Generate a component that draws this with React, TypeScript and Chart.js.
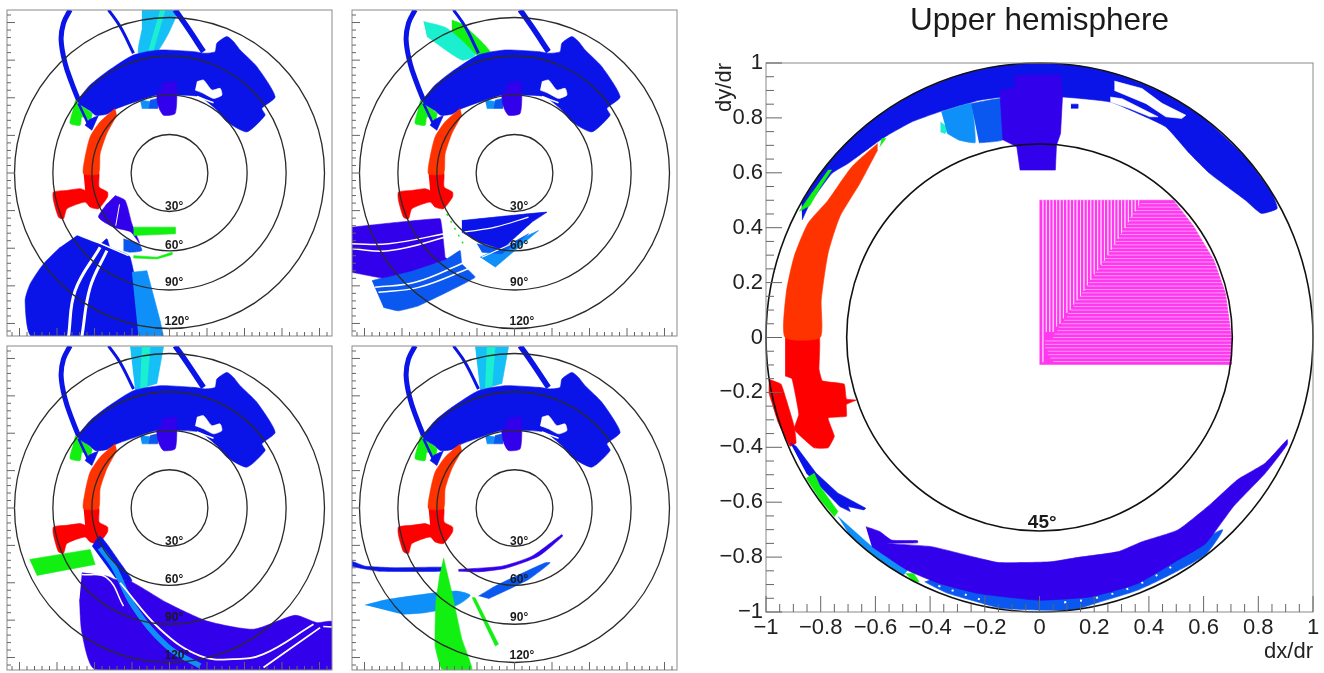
import React, { useEffect, useRef } from "react";
import { Chart, registerables } from "chart.js";

Chart.register(...registerables);

type P = number[];

// ---------- shared marks of the four small panels (dx, dy) ----------
const loopLeft: P[] = [[-0.795, 1.301], [-0.848, 1.195], [-0.867, 1.061], [-0.835, 0.875], [-0.781, 0.715], [-0.728, 0.581]];
const loopMid: P[] = [[-0.488, 1.301], [-0.395, 1.168], [-0.288, 0.955]];
const loopRight: P[] = [[0.045, 1.301], [0.139, 1.168], [0.272, 0.968]];
const mainBand: P[] = [[-0.736, 0.581], [-0.635, 0.701], [-0.501, 0.808], [-0.288, 0.941], [-0.075, 0.981], [0.192, 0.968], [0.285, 0.955], [0.365, 0.968], [0.379, 1.035], [0.459, 1.088], [0.512, 1.048], [0.565, 0.981], [0.699, 0.848], [0.845, 0.608], [0.739, 0.515], [0.765, 0.461], [0.619, 0.328], [0.459, 0.408], [0.379, 0.501], [0.245, 0.608], [0.085, 0.621], [-0.101, 0.621], [-0.235, 0.581], [-0.421, 0.515], [-0.5, 0.47], [-0.59, 0.46], [-0.64, 0.5], [-0.728, 0.555]];
const sideLobe: P[] = [[-0.568, 0.461], [-0.621, 0.341], [-0.675, 0.381], [-0.648, 0.421], [-0.595, 0.448]];
const mainHole: P[] = [[0.219, 0.728], [0.272, 0.741], [0.339, 0.661], [0.405, 0.675], [0.419, 0.621], [0.352, 0.595], [0.272, 0.635], [0.205, 0.661]];
const mainSlit: P[] = [[0.219, 0.61], [0.352, 0.56]];
const crownIndigo: P[] = [[-0.061, 0.715], [0.045, 0.728], [0.059, 0.661], [0.045, 0.475], [-0.048, 0.461], [-0.088, 0.528], [-0.101, 0.635], [-0.061, 0.661]];
const crownLight: P[] = [[-0.235, 0.581], [-0.155, 0.571], [-0.168, 0.515], [-0.221, 0.515]];
const crownMid: P[] = [[-0.155, 0.581], [-0.096, 0.595], [-0.096, 0.515], [-0.168, 0.515]];
const sideGreen: P[] = [[-0.755, 0.581], [-0.728, 0.555], [-0.621, 0.475], [-0.635, 0.421], [-0.701, 0.448], [-0.715, 0.381], [-0.795, 0.395], [-0.781, 0.475]];
const sideBlueLine: P[] = [[-0.728, 0.555], [-0.65, 0.39]];
const arcOrange: P[] = [[-0.435, 0.515], [-0.555, 0.408], [-0.635, 0.288], [-0.675, 0.128], [-0.688, -0.005], [-0.568, -0.005], [-0.555, 0.155], [-0.501, 0.315], [-0.421, 0.461]];
const arcRed: P[] = [[-0.688, 0.005], [-0.568, 0.005], [-0.563, -0.112], [-0.496, -0.152], [-0.496, -0.192], [-0.568, -0.285], [-0.635, -0.272], [-0.675, -0.232], [-0.821, -0.285], [-0.848, -0.365], [-0.888, -0.352], [-0.928, -0.219], [-0.928, -0.152], [-0.821, -0.139], [-0.715, -0.125], [-0.675, -0.139]];

// ---------- panel 1 ----------
const p1Cyan: P[] = [[-0.221, 1.301], [0.059, 1.301], [0.005, 1.141], [-0.101, 0.968], [-0.248, 0.955], [-0.221, 1.141]];
const p1Teal: P[] = [[-0.075, 1.301], [-0.035, 1.301], [-0.128, 0.981], [-0.168, 0.981]];
const p1Indigo: P[] = [[-0.435, -0.179], [-0.355, -0.219], [-0.301, -0.405], [-0.24, -0.56], [-0.31, -0.47], [-0.448, -0.432], [-0.568, -0.352], [-0.501, -0.245]];
const p1IndigoSlit: P[] = [[-0.4, -0.25], [-0.43, -0.42]];
const p1GreenBar: P[] = [[-0.288, -0.432], [0.045, -0.432], [0.045, -0.485], [-0.288, -0.499]];
const p1GreenThin: P[] = [[-0.288, -0.659], [-0.101, -0.672], [0.019, -0.632], [0.019, -0.651], [-0.101, -0.685], [-0.288, -0.677]];
const p1MidSmall: P[] = [[-0.368, -0.525], [-0.248, -0.565], [-0.221, -0.619], [-0.315, -0.632], [-0.368, -0.619]];
const p1BigBlue: P[] = [[-0.741, -0.499], [-0.555, -0.565], [-0.501, -0.525], [-0.475, -0.592], [-0.315, -0.672], [-0.261, -1.304], [-1.101, -1.304], [-1.155, -1.019], [-1.115, -0.885], [-1.008, -0.725], [-0.875, -0.592]];
const p1SlitA: P[] = [[-0.555, -0.592], [-0.755, -0.939], [-0.808, -1.304]];
const p1SlitB: P[] = [[-0.501, -0.619], [-0.635, -0.912], [-0.701, -1.304]];
const p1SlitTop: P[] = [[-0.728, -0.485], [-0.328, -0.659]];
const p1Light: P[] = [[-0.301, -0.792], [-0.181, -0.779], [-0.075, -1.179], [-0.048, -1.304], [-0.248, -1.304]];

// ---------- panel 2 ----------
const p2Green: P[] = [[-0.501, 1.221], [-0.408, 1.181], [-0.195, 0.968], [-0.301, 0.941], [-0.501, 1.115]];
const p2Teal: P[] = [[-0.728, 1.208], [-0.541, 1.155], [-0.315, 0.941], [-0.421, 0.901], [-0.701, 1.088]];
const p2Indigo: P[] = [[-1.301, -0.432], [-0.595, -0.365], [-0.555, -0.672], [-0.541, -0.685], [-0.821, -0.779], [-1.061, -0.837], [-1.301, -0.792]];
const p2SlitA: P[] = [[-1.301, -0.565], [-1.008, -0.565], [-0.501, -0.472]];
const p2SlitB: P[] = [[-1.301, -0.605], [-0.995, -0.619], [-0.501, -0.499]];
const p2SlitC: P[] = [[-0.568, -0.459], [-0.541, -0.632]];
const p2Mid: P[] = [[-1.141, -0.859], [-1.061, -0.837], [-0.541, -0.685], [-0.435, -0.619], [-0.421, -0.725], [-0.315, -0.832], [-0.768, -1.059], [-0.928, -1.099], [-1.048, -1.072]];
const p2SlitD: P[] = [[-1.115, -0.912], [-0.795, -0.872], [-0.395, -0.712]];
const p2SlitE: P[] = [[-1.088, -0.952], [-0.768, -0.912], [-0.341, -0.752]];
const p2Wedge: P[] = [[-0.421, -0.379], [0.259, -0.312], [0.139, -0.392], [-0.101, -0.605], [-0.275, -0.552], [-0.421, -0.472]];
const p2SlitF: P[] = [[-0.408, -0.472], [-0.155, -0.432], [0.112, -0.352]];
const p2WedgeLight: P[] = [[-0.275, -0.672], [0.019, -0.539], [0.192, -0.459], [-0.155, -0.752]];
const p2WedgeMid: P[] = [[-0.301, -0.565], [-0.101, -0.605], [0.112, -0.485], [-0.101, -0.645], [-0.261, -0.632]];
const p2SlitG: P[] = [[-0.261, -0.672], [0.005, -0.552]];
const p2GreenDots: P[] = [[-0.541, -0.325], [-0.395, -0.592]];

// ---------- panels 3 and 4 ----------
const lowCyan: P[] = [[-0.315, 1.293], [-0.048, 1.293], [-0.101, 1.0], [-0.275, 0.947]];
const lowTeal: P[] = [[-0.221, 1.293], [-0.155, 1.293], [-0.181, 0.973], [-0.235, 0.96]];
const p3GreenBar: P[] = [[-1.12, -0.413], [-0.635, -0.333], [-0.595, -0.453], [-1.061, -0.541]];
const p3GreenA: P[] = [[-0.715, -0.827], [-0.688, -0.827], [-0.688, -0.853], [-0.715, -0.853]];
const p3GreenB: P[] = [[-0.435, -0.667], [-0.408, -0.667], [-0.408, -0.72], [-0.435, -0.72]];
const p3Indigo: P[] = [[-0.701, -0.52], [-0.501, -0.547], [-0.435, -0.573], [-0.315, -0.587], [-0.021, -0.76], [0.299, -0.907], [0.672, -0.973], [1.005, -0.861], [1.179, -0.92], [1.304, -0.915], [1.304, -1.293], [-0.595, -1.293], [-0.701, -1], [-0.72, -0.733]];
const p3BlueLobe: P[] = [[-0.619, -0.307], [-0.555, -0.227], [-0.395, -0.44], [-0.301, -0.587], [-0.435, -0.56]];
const p3LightArc: P[] = [[-0.555, -0.32], [-0.448, -0.467], [-0.288, -0.787], [-0.021, -1.107], [0.245, -1.267]];
const p3SlitA: P[] = [[-0.701, -0.533], [-0.501, -0.56], [-0.368, -0.787]];
const p3SlitB: P[] = [[-0.395, -0.6], [-0.075, -0.973], [0.245, -1.187], [0.512, -1.213], [0.752, -1.173], [1.152, -0.933]];
const p3SlitC: P[] = [[0.752, -1.28], [1.205, -0.96]];
const p3SlitD: P[] = [[1.23, -0.95], [1.304, -0.955]];

const p4BlueStrip: P[] = [[-1.301, -0.427], [-1.195, -0.467], [-0.955, -0.48], [-0.581, -0.475], [-0.581, -0.507], [-1.088, -0.507], [-1.248, -0.48], [-1.301, -0.467]];
const p4IndigoArc: P[] = [[-0.448, -0.493], [-0.101, -0.467], [0.139, -0.387], [0.379, -0.213], [0.384, -0.227], [0.192, -0.387], [-0.075, -0.485], [-0.288, -0.512], [-0.448, -0.507]];
const p4Mid: P[] = [[-0.288, -0.707], [-0.155, -0.627], [0.245, -0.44], [0.285, -0.44], [0.112, -0.573], [-0.208, -0.728]];
const p4Light: P[] = [[-1.195, -0.779], [-1.008, -0.733], [-0.475, -0.667], [-0.355, -0.701], [-0.475, -0.787], [-0.715, -0.84], [-0.901, -0.853]];
const p4Green: P[] = [[-0.568, -0.4], [-0.501, -0.68], [-0.421, -1.053], [-0.341, -1.293], [-0.581, -1.293], [-0.635, -1.107], [-0.629, -0.76], [-0.595, -0.52]];
const p4GreenThin: P[] = [[-0.341, -0.72], [-0.315, -0.72], [-0.128, -1.093], [-0.155, -1.107]];

// ---------- large panel ----------
const bigTopBand: P[] = [[-0.868, 0.428], [-0.839, 0.489], [-0.759, 0.598], [-0.7, 0.634], [-0.6, 0.707], [-0.555, 0.737], [-0.468, 0.785], [-0.366, 0.822], [-0.221, 0.864], [-0.134, 0.876], [0.084, 0.876], [0.259, 0.858], [0.36, 0.816], [0.462, 0.767], [0.549, 0.67], [0.622, 0.598], [0.753, 0.5], [0.811, 0.452], [0.869, 0.47], [0.85, 0.525], [0.75, 0.66], [0.6, 0.8], [0.45, 0.893], [0.3, 0.954], [0.15, 0.989], [0, 1], [-0.15, 0.989], [-0.3, 0.954], [-0.45, 0.893], [-0.6, 0.8], [-0.7, 0.714], [-0.8, 0.6], [-0.87, 0.49]];
const bigHoleA: P[] = [[0.274, 0.934], [0.375, 0.907], [0.448, 0.853], [0.535, 0.81], [0.52, 0.798], [0.462, 0.804], [0.39, 0.852], [0.274, 0.9]];
const bigHoleB: P[] = [[0.259, 0.876], [0.302, 0.87], [0.433, 0.804], [0.404, 0.804], [0.33, 0.834], [0.259, 0.858]];
const bigDot: P[] = [[0.115, 0.85], [0.14, 0.85], [0.14, 0.835], [0.115, 0.835]];
const bigIndigoTop: P[] = [[-0.09, 0.955], [0.077, 0.955], [0.084, 0.876], [0.077, 0.743], [0.062, 0.7], [0.058, 0.61], [-0.071, 0.61], [-0.083, 0.695], [-0.134, 0.72], [-0.145, 0.9], [-0.09, 0.91]];
const bigLightBlob: P[] = [[-0.359, 0.822], [-0.25, 0.852], [-0.235, 0.71], [-0.294, 0.719], [-0.337, 0.743]];
const bigMidBlob: P[] = [[-0.25, 0.852], [-0.134, 0.87], [-0.134, 0.72], [-0.221, 0.709]];
const bigCyanBlob: P[] = [[-0.362, 0.785], [-0.33, 0.761], [-0.345, 0.743], [-0.362, 0.749]];
const bigOrange: P[] = [[-0.592, 0.707], [-0.686, 0.622], [-0.773, 0.5], [-0.846, 0.416], [-0.897, 0.295], [-0.926, 0.162], [-0.93, 0], [-0.802, 0], [-0.798, 0.137], [-0.773, 0.307], [-0.73, 0.44], [-0.657, 0.561], [-0.592, 0.683]];
const bigGreenTip: P[] = [[-0.577, 0.725], [-0.562, 0.725], [-0.584, 0.695]];
const bigGreenSide: P[] = [[-0.773, 0.61], [-0.76, 0.61], [-0.8, 0.55], [-0.84, 0.48], [-0.878, 0.46], [-0.83, 0.53]];
const bigRed: P[] = [[-0.93, 0.005], [-0.806, 0.005], [-0.806, -0.116], [-0.794, -0.158], [-0.714, -0.17], [-0.706, -0.224], [-0.67, -0.228], [-0.706, -0.244], [-0.706, -0.287], [-0.773, -0.293], [-0.75, -0.36], [-0.773, -0.402], [-0.824, -0.402], [-0.897, -0.335], [-0.88, -0.28], [-0.905, -0.15], [-0.93, -0.14]];
const bigRedStrip: P[] = [[-0.99, -0.152], [-0.945, -0.17], [-0.926, -0.226], [-0.897, -0.323], [-0.89, -0.384], [-0.912, -0.396], [-0.955, -0.31], [-0.99, -0.2]];
const bigBlueLow: P[] = [[-0.911, -0.384], [-0.89, -0.396], [-0.817, -0.494], [-0.737, -0.567], [-0.635, -0.622], [-0.642, -0.628], [-0.7, -0.616], [-0.692, -0.634], [-0.73, -0.616], [-0.802, -0.543], [-0.853, -0.494]];
const bigGreenLow: P[] = [[-0.824, -0.494], [-0.802, -0.543], [-0.737, -0.634], [-0.75, -0.652], [-0.802, -0.591], [-0.853, -0.512]];
const bigCrescent: P[] = [[-0.635, -0.689], [-0.584, -0.707], [-0.541, -0.738], [-0.446, -0.74], [-0.446, -0.748], [-0.555, -0.75], [-0.395, -0.762], [-0.235, -0.801], [-0.148, -0.82], [0.041, -0.817], [0.142, -0.801], [0.288, -0.78], [0.375, -0.744], [0.506, -0.701], [0.622, -0.61], [0.724, -0.518], [0.826, -0.457], [0.906, -0.372], [0.906, -0.39], [0.826, -0.494], [0.709, -0.616], [0.608, -0.75], [0.506, -0.811], [0.36, -0.896], [0.186, -0.945], [-0.003, -0.957], [-0.221, -0.933], [-0.366, -0.896], [-0.483, -0.848], [-0.613, -0.762]];
const bigMidLow: P[] = [[-0.366, -0.87], [-0.003, -0.94], [0.186, -0.93], [0.36, -0.88], [0.506, -0.79], [0.669, -0.7], [0.608, -0.79], [0.506, -0.85], [0.36, -0.92], [0.215, -0.965], [0.115, -0.993], [-0.134, -0.987], [-0.221, -0.965], [-0.34, -0.93], [-0.42, -0.89]];
const bigLightLow: P[] = [[-0.737, -0.652], [-0.613, -0.762], [-0.483, -0.848], [-0.498, -0.866], [-0.6, -0.8], [-0.699, -0.713]];
const bigGreenSpot: P[] = [[-0.49, -0.86], [-0.46, -0.86], [-0.44, -0.89], [-0.46, -0.89]];
const bigSpecksA: P[] = [[0.09, -0.965], [0.2, -0.95], [0.35, -0.905], [0.52, -0.815]];
const bigSpecksB: P[] = [[-0.37, -0.905], [-0.2, -0.96]];
const bigMagenta: P[] = [[0, 0.5], [0.49, 0.5], [0.564, 0.404], [0.637, 0.282], [0.68, 0.161], [0.702, 0], [0.702, -0.098], [0, -0.098]];
// rows: [dy, dx where the row's line starts]; columns: [dx, dy where the column's line stops]
const magentaRows: P[] = [[0.4875, 0.37], [0.475, 0.36], [0.4625, 0.35], [0.45, 0.34], [0.4375, 0.33], [0.425, 0.325], [0.4125, 0.32], [0.4, 0.31], [0.3875, 0.3], [0.375, 0.295], [0.3625, 0.285], [0.35, 0.28], [0.3375, 0.27], [0.325, 0.26], [0.3125, 0.255], [0.3, 0.25], [0.2875, 0.24], [0.275, 0.23], [0.2625, 0.225], [0.25, 0.215], [0.2375, 0.205], [0.225, 0.2], [0.2125, 0.19], [0.2, 0.18], [0.1875, 0.175], [0.175, 0.165], [0.1625, 0.155], [0.15, 0.15], [0.1375, 0.14], [0.125, 0.13], [0.1125, 0.125], [0.1, 0.115], [0.0875, 0.105], [0.075, 0.1], [0.0625, 0.09], [0.05, 0.08], [0.0375, 0.07], [0.025, 0.065], [0.0125, 0.055], [0, 0.05], [-0.0125, 0.02], [-0.025, 0.02], [-0.0375, 0.02], [-0.05, 0.03], [-0.0625, 0.03], [-0.075, 0.04], [-0.0875, 0.05]];
const magentaColumns: P[] = [[0.0125, -0.09], [0.025, 0.02], [0.0375, 0.02], [0.05, 0.02], [0.0625, 0.04], [0.075, 0.05], [0.0875, 0.07], [0.1, 0.09], [0.1125, 0.1], [0.125, 0.12], [0.1375, 0.135], [0.15, 0.15], [0.1625, 0.17], [0.175, 0.19], [0.1875, 0.21], [0.2, 0.23], [0.2125, 0.245], [0.225, 0.265], [0.2375, 0.28], [0.25, 0.3], [0.2625, 0.32], [0.275, 0.34], [0.2875, 0.36], [0.3, 0.38], [0.3125, 0.4], [0.325, 0.42], [0.3375, 0.44], [0.35, 0.46], [0.3625, 0.48]];

// ---------- axes and labels ----------
const smallRadii = [0.307, 0.621, 0.933, 1.24];
const smallRingLabels = ["30°", "60°", "90°", "120°"];
const smallRingLabelX = [0.037, 0.037, 0.037, 0.059];
const smallRingLabelY = [-0.272, -0.579, -0.877, -1.184];
const bigRadii = [1, 0.705];
const bigRingLabels = ["45°"];
const bigRingLabelX = [0.01];
const bigRingLabelY = [-0.674];
const titleText = "Upper hemisphere";
const xAxisTitle = "dx/dr";
const yAxisTitle = "dy/dr";

const BLUE = "#0a14e8";
const INDIGO = "#3200ea";
const MID = "#0a58f0";
const LIGHT = "#0e90f8";
const CYAN = "#14c0f5";
const TEAL = "#1af0d0";
const GREEN = "#12f012";
const RED = "#ff0000";
const ORANGE = "#ff3300";
const WHITE = "#ffffff";
const MAGENTA = "#ff38f0";

type Layer = { pts: P[]; color: string; width?: number; dash?: number[]; tension: number };
const f = (pts: P[], color: string, tension = 0.2): Layer => ({ pts, color, tension });
const l = (pts: P[], color: string, width: number, dash?: number[], tension = 0.4): Layer => ({ pts, color, width, dash, tension });

const common = (top: Layer[]): Layer[] => [
  ...top,
  f(sideGreen, GREEN),
  l(loopLeft, BLUE, 5),
  l(loopMid, BLUE, 3),
  l(loopRight, BLUE, 5.5),
  f(mainBand, BLUE),
  f(sideLobe, BLUE, 0),
  f(mainHole, WHITE),
  l(mainSlit, WHITE, 1.5),
  l(sideBlueLine, BLUE, 2.5),
  f(crownLight, LIGHT, 0),
  f(crownMid, MID, 0),
  f(crownIndigo, INDIGO),
  f(arcRed, RED),
  f(arcOrange, ORANGE),
];

const panel1: Layer[] = [
  ...common([f(p1Cyan, CYAN), f(p1Teal, TEAL, 0)]),
  f(p1Indigo, INDIGO), l(p1IndigoSlit, WHITE, 1),
  f(p1GreenBar, GREEN, 0), f(p1GreenThin, GREEN, 0), f(p1MidSmall, MID),
  f(p1BigBlue, BLUE), l(p1SlitA, WHITE, 3), l(p1SlitB, WHITE, 3), l(p1SlitTop, WHITE, 1.5),
  f(p1Light, LIGHT, 0),
];
const panel2: Layer[] = [
  ...common([f(p2Green, GREEN), f(p2Teal, TEAL)]),
  f(p2Mid, MID, 0.1), f(p2Indigo, INDIGO, 0.05),
  l(p2SlitA, WHITE, 1.5), l(p2SlitB, WHITE, 1.5), l(p2SlitC, WHITE, 1), l(p2SlitD, WHITE, 1.5), l(p2SlitE, WHITE, 1.5),
  f(p2WedgeLight, LIGHT, 0), f(p2WedgeMid, MID, 0), f(p2Wedge, BLUE, 0.05), l(p2SlitF, WHITE, 1.2), l(p2SlitG, WHITE, 1.2),
  l(p2GreenDots, GREEN, 1.5, [2, 6]),
];
const panel3: Layer[] = [
  ...common([f(lowCyan, CYAN, 0), f(lowTeal, TEAL, 0)]),
  f(p3GreenBar, GREEN, 0), f(p3GreenA, GREEN, 0), f(p3GreenB, GREEN, 0),
  f(p3Indigo, INDIGO, 0.2), f(p3BlueLobe, BLUE), l(p3LightArc, LIGHT, 5.5),
  l(p3SlitA, WHITE, 1.5), l(p3SlitB, WHITE, 1.8), l(p3SlitC, WHITE, 1.8), l(p3SlitD, WHITE, 1.5),
];
const panel4: Layer[] = [
  ...common([f(lowCyan, CYAN, 0), f(lowTeal, TEAL, 0)]),
  f(p4BlueStrip, BLUE, 0.1), f(p4IndigoArc, INDIGO, 0.2), f(p4Mid, MID, 0.2), f(p4Light, LIGHT, 0.25),
  f(p4Green, GREEN, 0.1), f(p4GreenThin, GREEN, 0),
];

const magentaRowLines: P[] = magentaRows.flatMap(([y, x]) => [[x, y], [0.72, y], [NaN, NaN]]);
const magentaColumnLines: P[] = magentaColumns.flatMap(([x, y]) => [[x, 0.5], [x, y], [NaN, NaN]]);

const bigLayers: Layer[] = [
  f(bigTopBand, BLUE, 0.15), f(bigHoleA, WHITE, 0), f(bigHoleB, WHITE, 0), f(bigDot, BLUE, 0),
  f(bigCyanBlob, TEAL, 0), f(bigLightBlob, LIGHT, 0.1), f(bigMidBlob, MID, 0.1), f(bigIndigoTop, INDIGO, 0),
  f(bigGreenTip, GREEN, 0), f(bigGreenSide, GREEN, 0), f(bigRed, RED, 0.1), f(bigOrange, ORANGE, 0.2),
  f(bigRedStrip, RED, 0.1), f(bigBlueLow, BLUE, 0), f(bigGreenLow, GREEN, 0),
  f(bigLightLow, LIGHT, 0), f(bigMidLow, MID, 0.2), f(bigCrescent, INDIGO, 0.15), f(bigGreenSpot, GREEN, 0),
  l(bigSpecksA, WHITE, 2, [2, 14]), l(bigSpecksB, WHITE, 2, [2, 12]),
  f(bigMagenta, MAGENTA, 0),
  l(magentaRowLines, "rgba(255,255,255,0.6)", 0.8, undefined, 0),
  l(magentaColumnLines, "rgba(255,255,255,0.6)", 0.8, undefined, 0),
];

type Furn = {
  radii: number[]; ringLabels: string[]; labelX: number[]; labelY: number[];
  labelFont: string; minorStep: number; perMajor: number; majorLen: number; minorLen: number; ringWidth: number; ringColor: string;
};

const furniture = (cfg: Furn) => ({
  id: "furniture",
  afterDatasetsDraw(chart: any) {
    const { ctx, chartArea: a, scales } = chart;
    const xs = scales.x, ys = scales.y;
    ctx.save();
    ctx.strokeStyle = cfg.ringColor;
    ctx.lineWidth = cfg.ringWidth;
    const cx = xs.getPixelForValue(0), cy = ys.getPixelForValue(0);
    for (const r of cfg.radii) {
      ctx.beginPath();
      ctx.ellipse(cx, cy, Math.abs(xs.getPixelForValue(r) - cx), Math.abs(ys.getPixelForValue(r) - cy), 0, 0, Math.PI * 2);
      ctx.stroke();
    }
    ctx.strokeStyle = "#8a8a8a";
    ctx.lineWidth = 1;
    ctx.strokeRect(a.left, a.top, a.right - a.left, a.bottom - a.top);
    ctx.strokeStyle = "#666666";
    const n = Math.round(xs.max / cfg.minorStep);
    for (let i = -n; i <= n; i++) {
      const v = i * cfg.minorStep;
      const len = i % cfg.perMajor === 0 ? cfg.majorLen : cfg.minorLen;
      const px = xs.getPixelForValue(v), py = ys.getPixelForValue(v);
      ctx.beginPath();
      ctx.moveTo(px, a.bottom); ctx.lineTo(px, a.bottom - len);
      ctx.moveTo(a.left, py); ctx.lineTo(a.left + len, py);
      ctx.stroke();
    }
    ctx.fillStyle = "#1a1a1a";
    ctx.font = cfg.labelFont;
    ctx.textAlign = "center";
    ctx.textBaseline = "middle";
    cfg.ringLabels.forEach((t, i) => ctx.fillText(t, xs.getPixelForValue(cfg.labelX[i]), ys.getPixelForValue(cfg.labelY[i])));
    ctx.restore();
  },
});

const toDatasets = (layers: Layer[]) =>
  [...layers].reverse().map((ly) => ({
    data: ly.pts.map(([x, y]) => ({ x, y })),
    showLine: true,
    spanGaps: false,
    pointRadius: 0,
    tension: ly.tension,
    fill: ly.width ? false : "shape",
    backgroundColor: ly.color,
    borderColor: ly.color,
    borderWidth: ly.width ?? 0.6,
    borderDash: ly.dash ?? [],
  }));

const fmt = (v: number) => String(Number(v.toFixed(1))).replace("-", "\u2212");

function SmallPanel({ layers, left, top, w, h }: { layers: Layer[]; left: number; top: number; w: number; h: number }) {
  const ref = useRef<HTMLCanvasElement>(null);
  useEffect(() => {
    const hiddenAxis = (min: number, max: number) => ({
      type: "linear", min, max,
      grid: { display: false, drawTicks: false }, border: { display: false },
      ticks: { display: false },
      afterFit: (s: any) => { s.width = 0; s.height = 0; s.paddingLeft = s.paddingRight = s.paddingTop = s.paddingBottom = 0; },
    });
    const chart = new Chart(ref.current!, {
      type: "scatter",
      data: { datasets: toDatasets(layers) as any },
      options: {
        animation: false, responsive: false,
        layout: { padding: 2 },
        plugins: { legend: { display: false }, tooltip: { enabled: false } },
        scales: { x: hiddenAxis(-1.3, 1.3), y: hiddenAxis(-1.3, 1.3) } as any,
      },
      plugins: [furniture({
        radii: smallRadii, ringLabels: smallRingLabels, labelX: smallRingLabelX, labelY: smallRingLabelY,
        labelFont: "bold 12px 'Liberation Sans'", minorStep: 0.06, perMajor: 5, majorLen: 8, minorLen: 4, ringWidth: 1.3, ringColor: "#2a2a2a",
      })],
    } as any);
    return () => chart.destroy();
  }, [layers]);
  return <canvas ref={ref} width={w + 4} height={h + 4} style={{ position: "absolute", left: left - 2, top: top - 2, width: w + 4, height: h + 4, filter: "blur(0.6px)" }} />;
}

function BigPanel() {
  const ref = useRef<HTMLCanvasElement>(null);
  useEffect(() => {
    const font = { family: "'Liberation Sans'", size: 22 };
    const chart = new Chart(ref.current!, {
      type: "scatter",
      data: { datasets: toDatasets(bigLayers) as any },
      options: {
        animation: false, responsive: false,
        layout: { padding: { left: 0, right: 11, top: 0, bottom: 0 } },
        plugins: {
          legend: { display: false }, tooltip: { enabled: false },
          title: { display: true, text: titleText, fullSize: false, color: "#1a1a1a", font: { family: "'Liberation Sans'", size: 31.5, weight: "normal" }, padding: { top: 2, bottom: 23.2 } },
        },
        scales: {
          x: {
            type: "linear", min: -1, max: 1,
            grid: { display: false, drawTicks: false }, border: { display: false },
            ticks: { stepSize: 0.2, autoSkip: false, maxRotation: 0, padding: 3, color: "#222", font, callback: (v: number) => fmt(v) },
            title: { display: true, text: xAxisTitle, align: "end", color: "#222", font, padding: { top: 0, bottom: 8 } },
            afterFit: (s: any) => { s.height = 61; },
          },
          y: {
            type: "linear", min: -1, max: 1,
            grid: { display: false, drawTicks: false }, border: { display: false },
            ticks: { stepSize: 0.2, autoSkip: false, padding: 3, color: "#222", font, callback: (v: number) => fmt(v) },
            title: { display: true, text: yAxisTitle, align: "end", color: "#222", font, padding: { top: 12, bottom: 0 } },
            afterFit: (s: any) => { s.width = 66; },
          },
        } as any,
      },
      plugins: [furniture({
        radii: bigRadii, ringLabels: bigRingLabels, labelX: bigRingLabelX, labelY: bigRingLabelY,
        labelFont: "bold 19px 'Liberation Sans'", minorStep: 0.05, perMajor: 4, majorLen: 16, minorLen: 8, ringWidth: 1.6, ringColor: "#111",
      })],
    } as any);
    return () => chart.destroy();
  }, []);
  return <canvas ref={ref} width={624} height={673} style={{ position: "absolute", left: 700, top: 0, width: 624, height: 673, filter: "blur(0.6px)" }} />;
}

export default function App() {
  return (
    <div style={{ position: "fixed", left: 0, top: 0, width: 1324, height: 673, background: "#fff", overflow: "hidden" }}>
      <SmallPanel layers={panel1} left={7} top={10} w={325} h={326} />
      <SmallPanel layers={panel2} left={352} top={10} w={325} h={326} />
      <SmallPanel layers={panel3} left={7} top={346} w={325} h={324} />
      <SmallPanel layers={panel4} left={352} top={346} w={325} h={324} />
      <BigPanel />
    </div>
  );
}
